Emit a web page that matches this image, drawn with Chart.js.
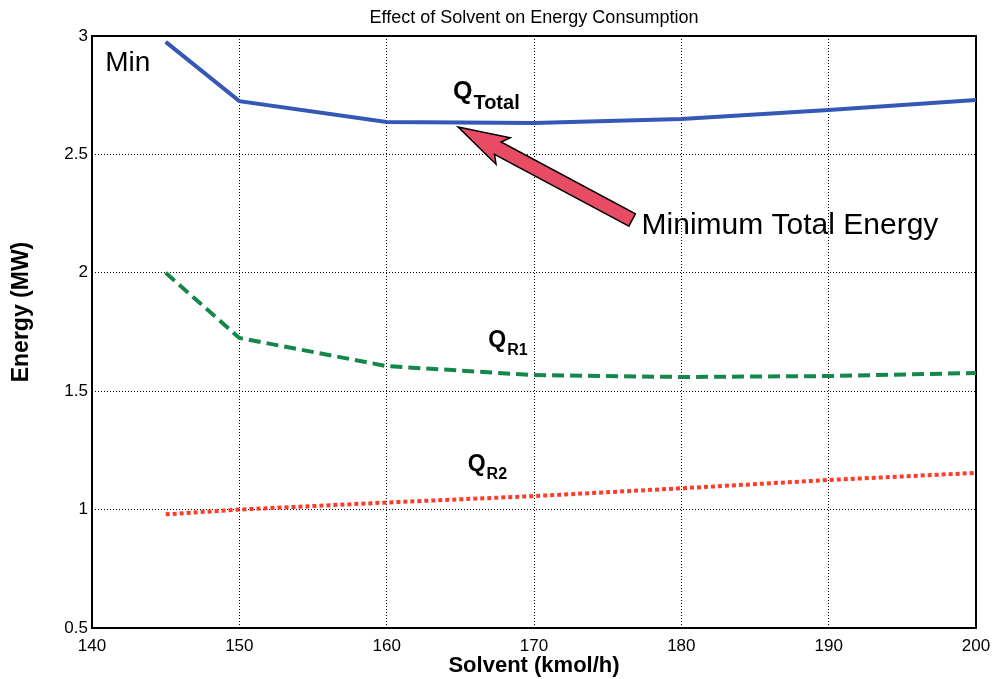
<!DOCTYPE html>
<html>
<head>
<meta charset="utf-8">
<script src="https://cdn.jsdelivr.net/npm/chart.js@4.4.1/dist/chart.umd.min.js"></script>
<style>
  html, body { margin: 0; padding: 0; background: #fff; }
  #wrap { width: 994px; height: 679px; }
</style>
</head>
<body>
<div id="wrap"><canvas id="energyChart"></canvas></div>
<script>
// Solvent flow (kmol/h)
const solvent = [145, 150, 160, 170, 180, 190, 200];
// Energy (MW)
const qTotal = [2.975, 2.725, 2.637, 2.633, 2.650, 2.688, 2.730];
const qR1 = [2.000, 1.725, 1.606, 1.568, 1.560, 1.564, 1.577];
const qR2 = [0.980, 1.000, 1.030, 1.057, 1.090, 1.125, 1.155];

const xTicks = [140, 150, 160, 170, 180, 190, 200];
const yTicks = [0.5, 1, 1.5, 2, 2.5, 3];

// annotation anchors in data units
const arrowTip = { x: 164.85, y: 2.616 };
const arrowTail = { x: 176.66, y: 2.223 };

const toPoints = (xs, ys) => xs.map((x, i) => ({ x: x, y: ys[i] }));

const FONT = 'Arial, "Liberation Sans", Helvetica, sans-serif';

// text with a subscript, left anchored
function subLabel(ctx, px, py, main, sub, mainSize, subSize) {
    ctx.save();
    ctx.fillStyle = '#000';
    ctx.textBaseline = 'middle';
    ctx.textAlign = 'left';
    ctx.font = 'bold ' + mainSize + 'px ' + FONT;
    ctx.fillText(main, px, py);
    const w = ctx.measureText(main).width;
    ctx.font = 'bold ' + subSize + 'px ' + FONT;
    ctx.fillText(sub, px + w + 1, py + mainSize * 0.45);
    ctx.restore();
}

const annotations = {
    id: 'annotations',
    beforeDatasetsDraw(chart) {
        // plot frame
        const { ctx, chartArea: a } = chart;
        ctx.save();
        ctx.strokeStyle = '#000';
        ctx.lineWidth = 2;
        ctx.strokeRect(a.left, a.top, a.right - a.left, a.bottom - a.top);
        ctx.restore();
    },
    afterDatasetsDraw(chart) {
        const { ctx, scales, chartArea: a } = chart;
        const sx = v => scales.x.getPixelForValue(v);
        const sy = v => scales.y.getPixelForValue(v);

        // chart title, centred over the plot area
        ctx.save();
        ctx.fillStyle = '#000';
        ctx.textAlign = 'center';
        ctx.textBaseline = 'middle';
        ctx.font = '18px ' + FONT;
        ctx.fillText('Effect of Solvent on Energy Consumption', (a.left + a.right) / 2, 18);
        ctx.restore();

        // arrow
        const tx = sx(arrowTip.x), ty = sy(arrowTip.y);
        const bx = sx(arrowTail.x), by = sy(arrowTail.y);
        const ang = Math.atan2(ty - by, tx - bx);
        const len = Math.hypot(tx - bx, ty - by);
        const headLen = 51, headW = 15, shaftW = 7, notch = 6;
        ctx.save();
        ctx.translate(bx, by);
        ctx.rotate(ang);
        ctx.beginPath();
        ctx.moveTo(0, -shaftW);
        ctx.lineTo(len - headLen + notch, -shaftW);
        ctx.lineTo(len - headLen, -headW);
        ctx.lineTo(len, 0);
        ctx.lineTo(len - headLen, headW);
        ctx.lineTo(len - headLen + notch, shaftW);
        ctx.lineTo(0, shaftW);
        ctx.closePath();
        ctx.fillStyle = '#e84c64';
        ctx.fill();
        ctx.strokeStyle = '#000';
        ctx.lineWidth = 1.5;
        ctx.stroke();
        ctx.restore();

        ctx.save();
        ctx.fillStyle = '#000';
        ctx.textBaseline = 'middle';
        ctx.textAlign = 'left';
        ctx.font = '30px ' + FONT;
        ctx.fillText('Minimum Total Energy', sx(177.3), sy(2.198));
        ctx.font = '28px ' + FONT;
        ctx.fillText('Min', sx(140.9), sy(2.886));
        ctx.restore();

        subLabel(ctx, sx(164.5), sy(2.764), 'Q', 'Total', 25, 20);
        subLabel(ctx, sx(166.9), sy(1.715), 'Q', 'R1', 23, 16);
        subLabel(ctx, sx(165.5), sy(1.19), 'Q', 'R2', 23, 16);

        // y axis title
        ctx.save();
        ctx.translate(22, 312);
        ctx.rotate(-Math.PI / 2);
        ctx.fillStyle = '#000';
        ctx.textAlign = 'center';
        ctx.textBaseline = 'middle';
        ctx.font = 'bold 23px ' + FONT;
        ctx.fillText('Energy (MW)', 0, 0);
        ctx.restore();
    }
};

const gridStyle = {
    color: '#000',
    lineWidth: 1,
    drawTicks: false
};

new Chart(document.getElementById('energyChart'), {
    type: 'line',
    data: {
        datasets: [
            {
                label: 'Q Total',
                data: toPoints(solvent, qTotal),
                borderColor: '#3557b7',
                borderWidth: 4,
                pointRadius: 0,
                tension: 0,
                fill: false
            },
            {
                label: 'Q R1',
                data: toPoints(solvent, qR1),
                borderColor: '#14884a',
                borderWidth: 4,
                borderDash: [12, 6],
                pointRadius: 0,
                tension: 0,
                fill: false
            },
            {
                label: 'Q R2',
                data: toPoints(solvent, qR2),
                borderColor: '#ff3b2c',
                borderWidth: 4,
                borderDash: [4, 3],
                pointRadius: 0,
                tension: 0,
                fill: false
            }
        ]
    },
    options: {
        responsive: true,
        maintainAspectRatio: false,
        animation: false,
        layout: { padding: { left: 0, right: 18, top: 36, bottom: 0 } },
        plugins: {
            legend: { display: false },
            tooltip: { enabled: false },
            title: { display: false }
        },
        scales: {
            x: {
                type: 'linear',
                min: 140,
                max: 200,
                afterBuildTicks: axis => { axis.ticks = xTicks.map(v => ({ value: v })); },
                afterFit: axis => {
                    axis.height = 51;
                    axis.paddingLeft = 0;
                    axis.paddingRight = 0;
                },
                grid: gridStyle,
                border: { display: false, dash: [1, 2] },
                ticks: {
                    color: '#000',
                    padding: 8,
                    maxRotation: 0,
                    font: { family: FONT, size: 17 }
                },
                title: {
                    display: true,
                    text: 'Solvent (kmol/h)',
                    color: '#000',
                    font: { family: FONT, size: 22, weight: 'bold' },
                    padding: { top: 0, bottom: 0 }
                }
            },
            y: {
                type: 'linear',
                min: 0.5,
                max: 3,
                afterBuildTicks: axis => { axis.ticks = yTicks.map(v => ({ value: v })); },
                afterFit: axis => {
                    axis.width = 92;
                    axis.paddingTop = 0;
                    axis.paddingBottom = 0;
                },
                grid: gridStyle,
                border: { display: false, dash: [1, 2] },
                ticks: {
                    color: '#000',
                    padding: 4,
                    font: { family: FONT, size: 17 },
                    callback: v => String(v)
                },
                title: { display: false }
            }
        }
    },
    plugins: [annotations]
});
</script>
</body>
</html>
